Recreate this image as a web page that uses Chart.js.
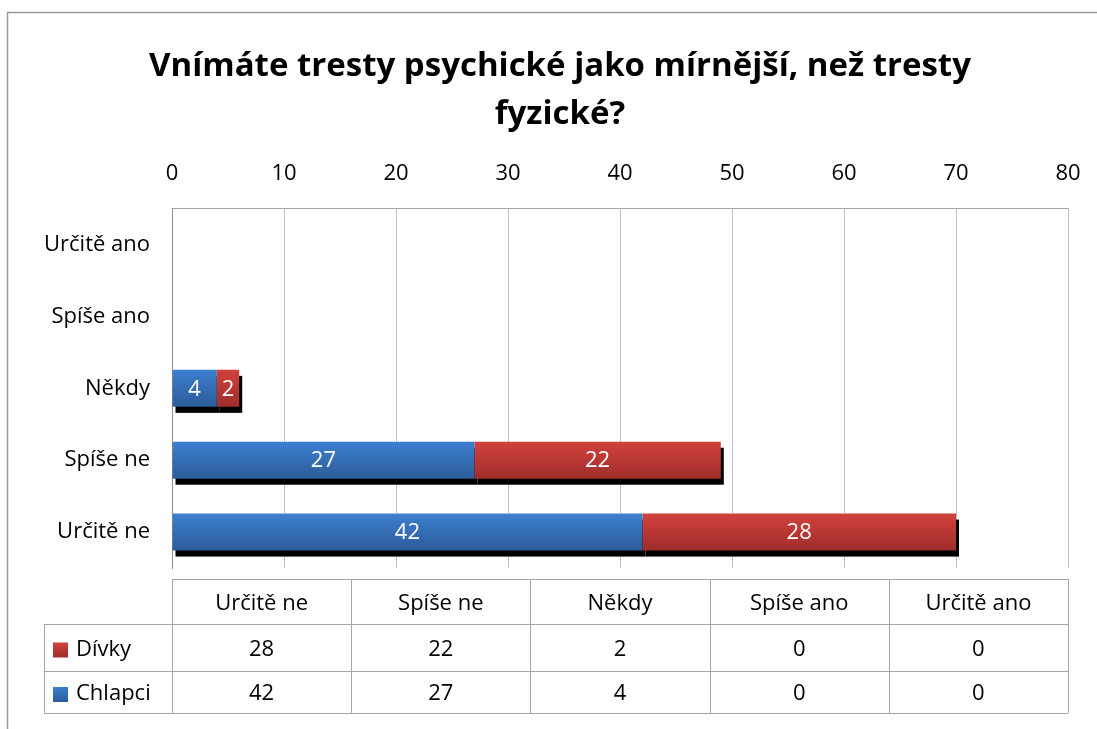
<!DOCTYPE html>
<html lang="cs">
<head>
  <meta charset="UTF-8">
  <title>Vnímáte tresty psychické jako mírnější</title>
  <script src="https://cdn.jsdelivr.net/npm/chart.js"></script>
  <style>
    html, body { margin: 0; padding: 0; background: #fff; }
    .chart-box { width: 1097px; height: 729px; }
  </style>
</head>
<body>

<div class="chart-box">
  <canvas id="trestyChart" width="1097" height="729"></canvas>
</div>

<script>
  // data
  const categories = ['Určitě ne', 'Spíše ne', 'Někdy', 'Spíše ano', 'Určitě ano'];
  const chlapci = [42, 27, 4, 0, 0];
  const divky = [28, 22, 2, 0, 0];
  const xMin = 0;
  const xMax = 80;
  const xStep = 10;
  const titleLines = ['Vnímáte tresty psychické jako mírnější, než tresty', 'fyzické?'];

  const FONT = '"Open Sans", "DejaVu Sans", sans-serif';
  const TEXT_SIZE = 22;
  const BLUE = ['#3d7fcf', '#2c5c99'];
  const RED = ['#d1413d', '#9f2d2a'];
  const BAR_PCT = 0.515;
  const TITLE_CENTER = 560;

  // vertical gradient per bar, positioned from the category scale
  function barFill(c, pair) {
    const chart = c.chart;
    const y = chart.scales.y;
    if (!y || c.dataIndex === undefined) return pair[0];
    const center = y.getPixelForValue(c.dataIndex);
    const half = (y.height / categories.length) * BAR_PCT / 2;
    if (!Number.isFinite(center) || !Number.isFinite(half) || half <= 0) return pair[0];
    const g = chart.ctx.createLinearGradient(0, center - half, 0, center + half);
    g.addColorStop(0, pair[0]);
    g.addColorStop(1, pair[1]);
    return g;
  }

  // outer frame of the picture, and title centred like the original
  const frame = {
    id: 'frame',
    afterLayout(chart) {
      const t = chart.titleBlock;
      if (t) t.left = 2 * TITLE_CENTER - t.right;
    },
    beforeDraw(chart) {
      const ctx = chart.ctx;
      ctx.save();
      ctx.fillStyle = '#fff';
      ctx.fillRect(0, 0, chart.width, chart.height);
      ctx.strokeStyle = '#999';
      ctx.lineWidth = 1.5;
      ctx.beginPath();
      ctx.moveTo(7.5, chart.height);
      ctx.lineTo(7.5, 12.5);
      ctx.lineTo(chart.width, 12.5);
      ctx.stroke();
      ctx.restore();
    }
  };

  // black drop shadow under the bars
  const shadows = {
    id: 'shadows',
    beforeDatasetsDraw(chart) {
      const ctx = chart.ctx;
      ctx.save();
      ctx.fillStyle = '#000';
      chart.data.datasets.forEach((ds, i) => {
        chart.getDatasetMeta(i).data.forEach(el => {
          const w = Math.abs(el.x - el.base);
          if (!w) return;
          ctx.fillRect(Math.min(el.x, el.base) + 3, el.y - el.height / 2 + 6, w, el.height);
        });
      });
      ctx.restore();
    }
  };

  // white numbers inside the bars
  const valueLabels = {
    id: 'valueLabels',
    afterDatasetsDraw(chart) {
      const ctx = chart.ctx;
      ctx.save();
      ctx.fillStyle = '#fff';
      ctx.font = TEXT_SIZE + 'px ' + FONT;
      ctx.textAlign = 'center';
      ctx.textBaseline = 'middle';
      chart.data.datasets.forEach((ds, i) => {
        chart.getDatasetMeta(i).data.forEach((el, j) => {
          const v = ds.data[j];
          if (!v) return;
          ctx.fillText(String(v), (el.x + el.base) / 2, el.y + 1);
        });
      });
      ctx.restore();
    }
  };

  // data table under the plot
  const dataTable = {
    id: 'dataTable',
    afterDraw(chart) {
      const ctx = chart.ctx;
      const area = chart.chartArea;
      const colW = (area.right - area.left) / categories.length;
      const keyLeft = 44;
      const top = area.bottom + 11;
      const rows = [top, top + 45, top + 92, top + 134];
      const px = v => Math.round(v) + 0.5;

      ctx.save();
      ctx.strokeStyle = '#a6a6a6';
      ctx.lineWidth = 1;
      ctx.beginPath();
      ctx.moveTo(area.left, px(rows[0]));
      ctx.lineTo(area.right, px(rows[0]));
      for (let r = 1; r < rows.length; r++) {
        ctx.moveTo(keyLeft, px(rows[r]));
        ctx.lineTo(area.right, px(rows[r]));
      }
      ctx.moveTo(px(keyLeft), rows[1]);
      ctx.lineTo(px(keyLeft), rows[3]);
      for (let c = 0; c <= categories.length; c++) {
        const x = px(area.left + c * colW);
        ctx.moveTo(x, rows[0]);
        ctx.lineTo(x, rows[3]);
      }
      ctx.stroke();

      ctx.fillStyle = '#000';
      ctx.font = TEXT_SIZE + 'px ' + FONT;
      ctx.textAlign = 'center';
      ctx.textBaseline = 'middle';
      categories.forEach((name, c) => {
        const cx = area.left + (c + 0.5) * colW;
        ctx.fillText(name, cx, (rows[0] + rows[1]) / 2 + 2);
        ctx.fillText(String(divky[c]), cx, (rows[1] + rows[2]) / 2 + 2);
        ctx.fillText(String(chlapci[c]), cx, (rows[2] + rows[3]) / 2 + 2);
      });

      const keys = [['Dívky', RED, 1], ['Chlapci', BLUE, 2]];
      keys.forEach(([name, pair, r]) => {
        const cy = (rows[r] + rows[r + 1]) / 2 + 2;
        const g = ctx.createLinearGradient(0, cy - 7, 0, cy + 8);
        g.addColorStop(0, pair[0]);
        g.addColorStop(1, pair[1]);
        ctx.fillStyle = g;
        ctx.fillRect(53, cy - 7, 15, 15);
        ctx.fillStyle = '#000';
        ctx.textAlign = 'left';
        ctx.fillText(name, 76, cy);
      });
      ctx.restore();
    }
  };

  document.addEventListener('DOMContentLoaded', function() {
    const ctx = document.getElementById('trestyChart').getContext('2d');
    new Chart(ctx, {
      type: 'bar',
      data: {
        labels: categories,
        datasets: [
          { label: 'Chlapci', data: chlapci, backgroundColor: c => barFill(c, BLUE), barPercentage: BAR_PCT, categoryPercentage: 1 },
          { label: 'Dívky', data: divky, backgroundColor: c => barFill(c, RED), barPercentage: BAR_PCT, categoryPercentage: 1 }
        ]
      },
      options: {
        indexAxis: 'y',
        responsive: false,
        animation: false,
        layout: { padding: { top: 14, left: 20, right: 29, bottom: 161 } },
        plugins: {
          legend: { display: false },
          tooltip: { enabled: false },
          title: {
            display: true,
            text: titleLines,
            color: '#000',
            font: { family: FONT, size: 33, weight: 'bold', lineHeight: 1.45 },
            padding: { top: 29, bottom: 0 }
          }
        },
        scales: {
          x: {
            position: 'top',
            stacked: true,
            min: xMin,
            max: xMax,
            ticks: { stepSize: xStep, color: '#000', font: { family: FONT, size: TEXT_SIZE, lineHeight: 1.2 }, padding: 22 },
            grid: { color: '#bfbfbf', drawTicks: false },
            border: { display: true, color: '#a6a6a6' },
            afterFit: s => { s.height = 70; s.paddingLeft = 0; s.paddingRight = 0; }
          },
          y: {
            stacked: true,
            reverse: true,
            ticks: { color: '#000', font: { family: FONT, size: TEXT_SIZE }, padding: 22 },
            grid: { display: false, drawTicks: false },
            border: { display: true, color: '#8c8c8c' },
            afterFit: s => { s.width = 152; }
          }
        }
      },
      plugins: [frame, shadows, valueLabels, dataTable]
    });
  });
</script>

</body>
</html>
